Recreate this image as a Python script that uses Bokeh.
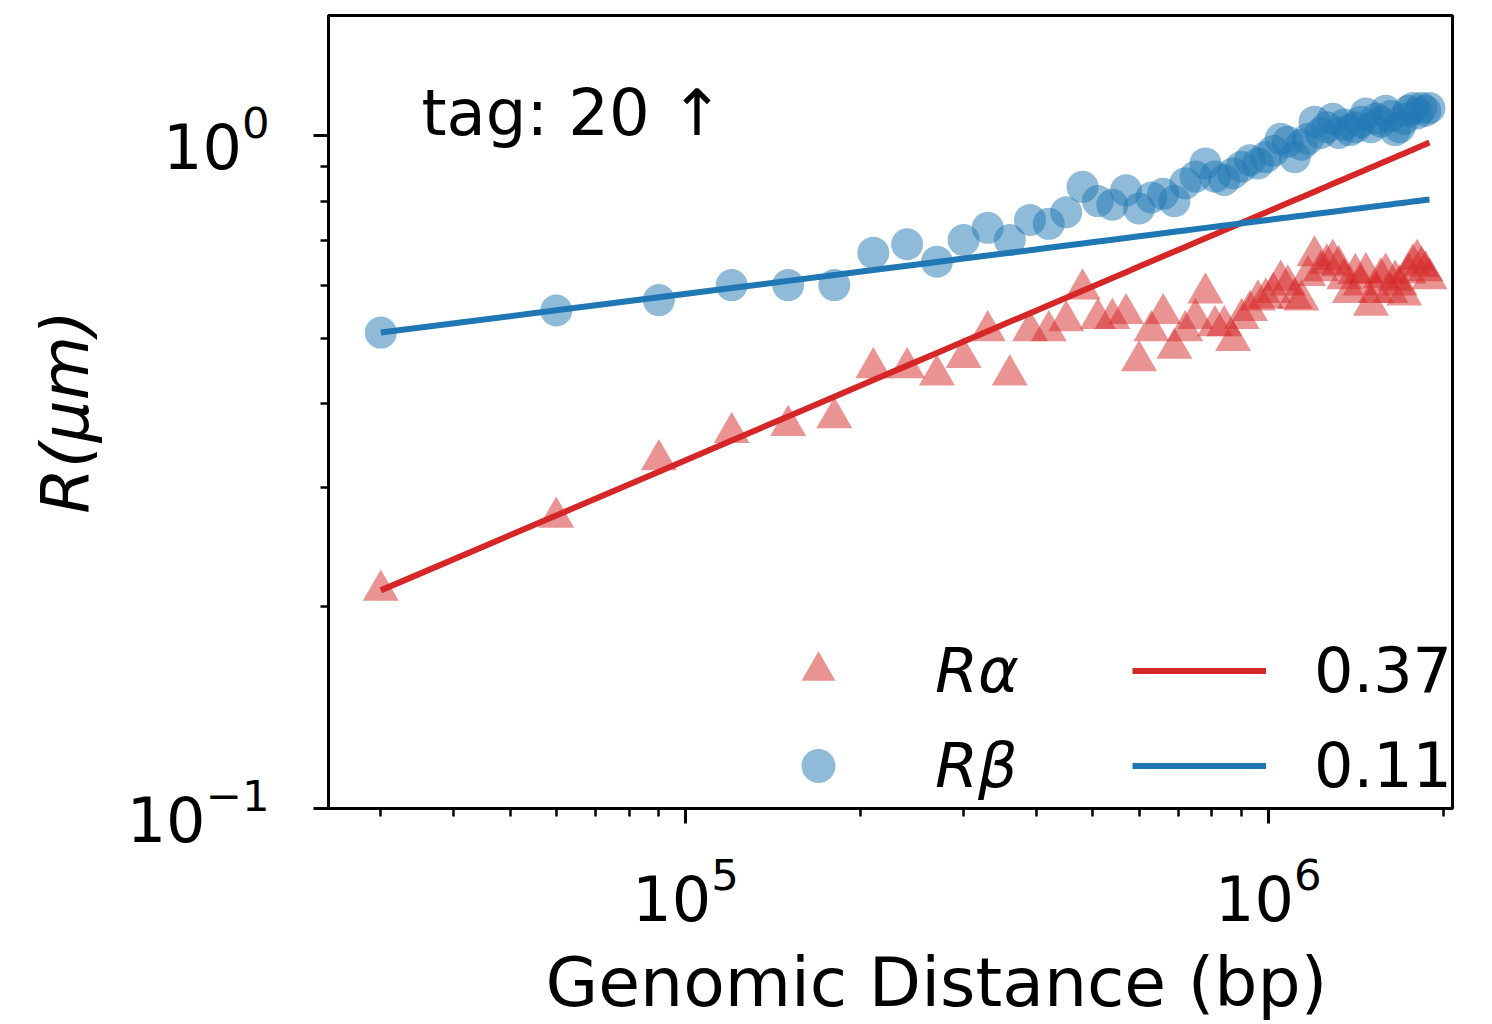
from bokeh.plotting import figure
from bokeh.models import FixedTicker, Legend, LegendItem, Label, Title
from bokeh.embed import file_html
from bokeh.resources import INLINE

# ---------------- data ----------------
distance_bp = [30000, 60000, 90000, 120000, 150000, 180000, 210000, 240000, 270000, 300000,
               330000, 360000, 390000, 420000, 450000, 480000, 510000, 540000, 570000, 600000,
               630000, 660000, 690000, 720000, 750000, 780000, 810000, 840000, 870000, 900000,
               930000, 960000, 990000, 1020000, 1050000, 1080000, 1110000, 1140000, 1170000, 1200000,
               1230000, 1260000, 1290000, 1320000, 1350000, 1380000, 1410000, 1440000, 1470000, 1500000,
               1530000, 1560000, 1590000, 1620000, 1650000, 1680000, 1710000, 1740000, 1770000, 1800000,
               1830000, 1860000, 1890000]

r_alpha = [0.211, 0.271, 0.330, 0.362, 0.371, 0.381, 0.452, 0.452, 0.441, 0.468,
           0.513, 0.441, 0.513, 0.513, 0.531, 0.592, 0.535, 0.535, 0.544, 0.463,
           0.513, 0.544, 0.483, 0.513, 0.535, 0.584, 0.522, 0.522, 0.496, 0.535,
           0.550, 0.570, 0.574, 0.585, 0.610, 0.600, 0.573, 0.570, 0.620, 0.663,
           0.630, 0.645, 0.655, 0.641, 0.613, 0.585, 0.624, 0.600, 0.626, 0.560,
           0.585, 0.615, 0.625, 0.585, 0.610, 0.600, 0.580, 0.625, 0.645, 0.655,
           0.640, 0.630, 0.613]

r_beta = [0.51, 0.55, 0.57, 0.60, 0.60, 0.60, 0.67, 0.69, 0.65, 0.70,
          0.73, 0.70, 0.75, 0.74, 0.77, 0.84, 0.80, 0.79, 0.83, 0.78,
          0.81, 0.82, 0.80, 0.85, 0.87, 0.91, 0.87, 0.86, 0.88, 0.90,
          0.92, 0.91, 0.93, 0.95, 0.99, 0.98, 0.93, 0.97, 0.99, 1.05,
          1.01, 1.03, 1.06, 1.01, 1.04, 1.02, 1.03, 1.05, 1.08, 1.03,
          1.06, 1.05, 1.09, 1.07, 1.02, 1.03, 1.06, 1.09, 1.10, 1.08,
          1.10, 1.09, 1.10]

exponent_alpha = 0.37
exponent_beta = 0.11
exponent_labels = ["0.37", "0.11"]
series_labels = ["R\u03b1", "R\u03b2"]

x_major = [1e5, 1e6]
x_minor = [3e4, 4e4, 5e4, 6e4, 7e4, 8e4, 9e4,
           2e5, 3e5, 4e5, 5e5, 6e5, 7e5, 8e5, 9e5, 2e6]
y_major = [0.1, 1.0]
y_minor = [0.2, 0.3, 0.4, 0.5, 0.6, 0.7, 0.8, 0.9]

# power-law guide lines anchored at the first point
fit_alpha = [r_alpha[0] * (d / distance_bp[0]) ** exponent_alpha for d in distance_bp]
fit_beta = [r_beta[0] * (d / distance_bp[0]) ** exponent_beta for d in distance_bp]

RED = "#d62728"
BLUE = "#1f77b4"
FONT = "DejaVu Sans"

p = figure(x_axis_type="log", y_axis_type="log",
           x_range=(2.44e4, 2.07e6), y_range=(0.1, 1.51),
           frame_width=1124, frame_height=793,
           min_border_left=328, min_border_right=24,
           min_border_top=15, min_border_bottom=200,
           output_backend="svg", toolbar_location=None)

p.xgrid.visible = False
p.ygrid.visible = False
p.outline_line_color = "black"
p.outline_line_width = 3
p.outline_line_alpha = 1.0

p.xaxis.ticker = FixedTicker(ticks=x_major, minor_ticks=x_minor)
p.yaxis.ticker = FixedTicker(ticks=y_major, minor_ticks=y_minor)

for ax in (p.xaxis[0], p.yaxis[0]):
    ax.axis_line_width = 3
    ax.axis_line_color = "black"
    ax.major_tick_line_width = 3
    ax.minor_tick_line_width = 2.5
    ax.major_tick_out = 15
    ax.major_tick_in = 0
    ax.minor_tick_out = 8
    ax.minor_tick_in = 0
    ax.major_label_text_font = FONT
    ax.major_label_text_font_size = "62px"
    ax.major_label_text_color = "black"
    ax.axis_label_text_font = FONT
    ax.axis_label_text_font_size = "66px"
    ax.axis_label_text_color = "black"

p.xaxis.major_label_standoff = 31
p.yaxis.major_label_standoff = 44
p.yaxis.axis_label = "R(\u03bcm)"
p.yaxis.axis_label_text_font_style = "italic"
p.yaxis.axis_label_standoff = 20

p.add_layout(Title(text="Genomic Distance (bp)", align="left", offset=217,
                   text_font=FONT, text_font_size="68px", text_font_style="normal",
                   text_color="black", standoff=35), "below")

sc_a = p.scatter(distance_bp, r_alpha, marker="triangle", size=36,
                 fill_color=RED, fill_alpha=0.5, line_color=None)
sc_b = p.scatter(distance_bp, r_beta, marker="circle", size=32,
                 fill_color=BLUE, fill_alpha=0.5, line_color=None)
ln_a = p.line(distance_bp, fit_alpha, line_color=RED, line_width=6)
ln_b = p.line(distance_bp, fit_beta, line_color=BLUE, line_width=6)

leg_markers = Legend(items=[LegendItem(label=series_labels[0], renderers=[sc_a]),
                            LegendItem(label=series_labels[1], renderers=[sc_b])],
                     location=(423, 0), orientation="vertical",
                     glyph_width=134, glyph_height=85, label_standoff=50,
                     spacing=10, padding=0, margin=0,
                     border_line_alpha=0, background_fill_alpha=0,
                     label_text_font=FONT, label_text_font_size="62px",
                     label_text_font_style="italic", label_text_color="black")
leg_lines = Legend(items=[LegendItem(label=exponent_labels[0], renderers=[ln_a]),
                          LegendItem(label=exponent_labels[1], renderers=[ln_b])],
                   location=(804, 0), orientation="vertical",
                   glyph_width=134, glyph_height=85, label_standoff=48,
                   spacing=10, padding=0, margin=0,
                   border_line_alpha=0, background_fill_alpha=0,
                   label_text_font=FONT, label_text_font_size="62px",
                   label_text_color="black")
p.add_layout(leg_markers)
p.add_layout(leg_lines)

p.add_layout(Label(x=93, y=696, x_units="screen", y_units="screen",
                   text="tag: 20 \u2191", text_font=FONT, text_font_size="64px",
                   text_baseline="alphabetic", text_color="black"))

open("out.html", "w").write(file_html(p, INLINE))
